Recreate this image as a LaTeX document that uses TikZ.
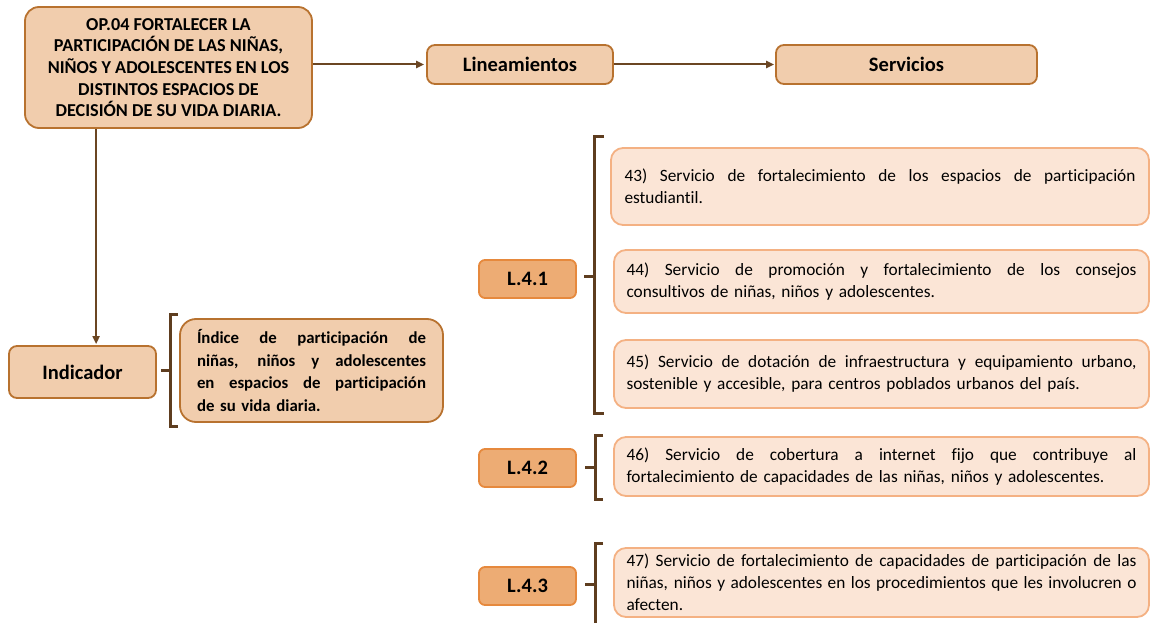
\documentclass[tikz,border=0pt]{standalone}
\usepackage{fontspec}
\setmainfont{Carlito}[Ligatures={NoCommon}]
\usetikzlibrary{arrows.meta}
\definecolor{opfill}{HTML}{F1CDAD}
\definecolor{opline}{HTML}{B8722F}
\definecolor{svfill}{HTML}{FBE5D6}
\definecolor{svline}{HTML}{F4B183}
\definecolor{lfill}{HTML}{EDAC74}
\definecolor{lline}{HTML}{E6893D}
\definecolor{arrcol}{HTML}{6B4623}
\definecolor{brcol}{HTML}{5E3D1F}
\newcommand{\JL}[2]{\leavevmode\hbox to #1{\spaceskip=\fontdimen2\font plus 1fil\relax\xspaceskip=\spaceskip #2}}
\begin{document}
\begin{tikzpicture}[x=1pt,y=-1pt,
  mainbox/.style={draw=opline, fill=opfill, line width=1.8pt, rounded corners=8pt,
    inner sep=0pt, font=\bfseries\fontsize{20.5}{24}\selectfont, align=center},
  lbox/.style={draw=lline, fill=lfill, line width=1.8pt, rounded corners=6pt,
    inner sep=0pt, minimum width=97pt, minimum height=38pt,
    font=\bfseries\fontsize{20.5}{24}\selectfont},
  svbox/.style={draw=svline, fill=svfill, line width=1.8pt, rounded corners=12pt,
    inner ysep=0pt, align=left, font=\fontsize{17.3}{22}\selectfont},
  conn/.style={draw=arrcol, line width=2pt, -{Triangle[length=8pt,width=7pt]}},
  brack/.style={draw=brcol, line width=3pt, line join=miter}]
\useasboundingbox (0,0) rectangle (1151,623);

% top row
\node[mainbox, minimum width=287pt, minimum height=121pt, rounded corners=14pt,
  font=\bfseries\fontsize{18.2}{21.7}\selectfont] (op) at (168.5,67.5)
  {OP.04 FORTALECER LA\\PARTICIPACIÓN DE LAS NIÑAS,\\NIÑOS Y ADOLESCENTES EN LOS\\DISTINTOS ESPACIOS DE\\DECISIÓN DE SU VIDA DIARIA.};
\node[mainbox, minimum width=186pt, minimum height=39pt] (lin) at (520,64.5) {Lineamientos};
\node[mainbox, minimum width=261pt, minimum height=39pt] (ser) at (906.5,64.5) {Servicios};

\draw[conn, shorten >=2pt] (op.east |- lin.west) -- (lin.west);
\draw[conn, shorten >=1pt] (lin.east) -- (ser.west);

% indicator
\node[mainbox, minimum width=147pt, minimum height=52pt] (ind) at (82.5,372) {Indicador};
\coordinate (opb) at ([xshift=72pt]op.south west);
\draw[conn, shorten >=1pt] (opb) -- (opb |- ind.north);

\node[mainbox, minimum width=263pt, minimum height=103pt, rounded corners=16pt,
  text width=229pt, align=left, font=\bfseries\fontsize{16.8}{22.7}\selectfont] (indt) at (311.5,370.5)
  {\JL{229pt}{Índice de participación de}\\\JL{229pt}{niñas, niños y adolescentes}\\\JL{229pt}{en espacios de participación}\\de su vida diaria.};
\draw[brack] (178,314) -- (170,314) -- (170,426) -- (178,426);
\draw[brack] (170,370) -- (161,370);

% lineamientos
\node[lbox] (l41) at (527.5,279) {L.4.1};
\node[lbox] (l42) at (527.5,468) {L.4.2};
\node[lbox] (l43) at (527.5,586) {L.4.3};

\draw[brack] (604,137) -- (594,137) -- (594,413) -- (604,413);
\draw[brack] (594,276) -- (584,276);
\draw[brack] (603,435) -- (595,435) -- (595,499) -- (603,499);
\draw[brack] (595,467) -- (585,467);
\draw[brack] (603,543) -- (595,543) -- (595,630);
\draw[brack] (595,584) -- (585,584);

% services
\node[svbox, minimum width=538pt, minimum height=77pt, text width=511pt, inner xsep=13.5pt] (s43) at (880,186.5)
  {\JL{511pt}{43) Servicio de fortalecimiento de los espacios de participación}\\estudiantil.};
\node[svbox, minimum width=535pt, minimum height=63pt, text width=510pt, inner xsep=12.5pt] (s44) at (881.5,281.5)
  {\JL{510pt}{44) Servicio de promoción y fortalecimiento de los consejos}\\consultivos de niñas, niños y adolescentes.};
\node[svbox, minimum width=535pt, minimum height=68pt, text width=510pt, inner xsep=12.5pt] (s45) at (881.5,374)
  {\JL{510pt}{45) Servicio de dotación de infraestructura y equipamiento urbano,}\\sostenible y accesible, para centros poblados urbanos del país.};
\node[svbox, minimum width=535pt, minimum height=59pt, text width=510pt, inner xsep=12.5pt] (s46) at (881.5,466.5)
  {\JL{510pt}{46) Servicio de cobertura a internet fijo que contribuye al}\\fortalecimiento de capacidades de las niñas, niños y adolescentes.};
\node[svbox, minimum width=535pt, minimum height=69pt, text width=510pt, inner xsep=12.5pt] (s47) at (881.5,582.5)
  {\JL{510pt}{47) Servicio de fortalecimiento de capacidades de participación de las}\\\JL{510pt}{niñas, niños y adolescentes en los procedimientos que les involucren o}\\afecten.};
\end{tikzpicture}
\end{document}
